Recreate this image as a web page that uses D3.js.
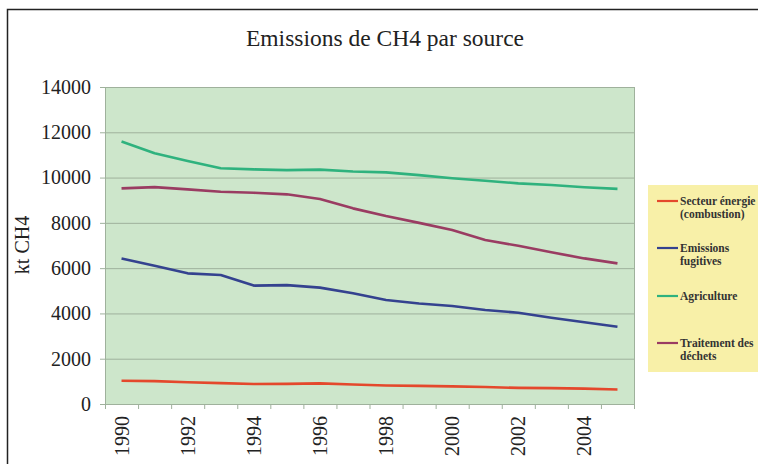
<!DOCTYPE html>
<html><head><meta charset="utf-8">
<script src="https://cdn.jsdelivr.net/npm/d3@7"></script>
<style>body{margin:0;background:#fff;}svg{display:block;} text{font-family:"Liberation Serif","Times New Roman","DejaVu Serif",serif;}</style>
</head><body>
<svg id="c" width="758" height="464"></svg>
<script>
const years = [1990,1991,1992,1993,1994,1995,1996,1997,1998,1999,2000,2001,2002,2003,2004,2005];
const yTicks = [0,2000,4000,6000,8000,10000,12000,14000];
const xTickLabels = [1990,1992,1994,1996,1998,2000,2002,2004];
const energie = [1030,1010,960,920,880,890,910,860,820,800,780,750,710,700,680,640];
const fugitives = [6430,6110,5770,5700,5230,5250,5140,4890,4590,4440,4330,4150,4030,3810,3610,3410];
const agriculture = [11590,11070,10730,10410,10360,10330,10350,10270,10230,10110,9970,9860,9745,9670,9570,9500];
const dechets = [9525,9580,9480,9375,9330,9260,9050,8640,8300,8000,7680,7240,6990,6700,6430,6210];
const seriesNames = [["Secteur énergie","(combustion)"],["Emissions","fugitives"],["Agriculture"],["Traitement des","déchets"]];
const seriesColors = ["#e4482c","#34428f","#2fb27e","#9a3c62"];
const seriesData = [energie,fugitives,agriculture,dechets];

const svg = d3.select("#c");
const L=105,R=634,T=87,B=404;

svg.append("path").attr("d","M7.5,470 V9.5 H770").attr("fill","none").attr("stroke","#222").attr("stroke-width",1.5);

svg.append("text").attr("x",385).attr("y",46).attr("text-anchor","middle")
  .attr("font-size",23.5).attr("fill","#222").text("Emissions de CH4 par source");

const x = d3.scaleBand().domain(years).range([L,R]);
const y = d3.scaleLinear().domain([0,14000]).range([B,T]);

svg.append("rect").attr("x",L).attr("y",T).attr("width",R-L).attr("height",B-T).attr("fill","#cde6cb");
svg.append("g").selectAll("line").data(yTicks).join("line")
  .attr("x1",L).attr("x2",R).attr("y1",d=>y(d)+0.5).attr("y2",d=>y(d)+0.5)
  .attr("stroke","#9fb19c").attr("stroke-width",1);
svg.append("line").attr("x1",R+0.5).attr("x2",R+0.5).attr("y1",T).attr("y2",B).attr("stroke","#9fb19c");

const yAxis = svg.append("g").attr("transform",`translate(${L},0)`)
  .call(d3.axisLeft(y).tickValues(yTicks).tickSize(5).tickPadding(9).tickFormat(d3.format("d")));
yAxis.attr("font-family",null);
yAxis.select(".domain").attr("stroke","#9fb19c");
yAxis.selectAll(".tick line").attr("stroke","#9fb19c");
yAxis.selectAll("text").attr("font-size",20).attr("fill","#222");

const xAxis = svg.append("g").attr("transform",`translate(0,${B})`)
  .call(d3.axisBottom(x).tickValues([]).tickSize(0));
xAxis.select(".domain").attr("stroke","#9fb19c");
const bounds = years.map(d=>x(d)).concat([R]);
svg.append("g").selectAll("line").data(bounds).join("line")
  .attr("x1",d=>d+0.5).attr("x2",d=>d+0.5).attr("y1",B).attr("y2",B+5).attr("stroke","#9fb19c");
svg.append("g").selectAll("text").data(xTickLabels).join("text")
  .attr("transform",d=>`translate(${x(d)+x.bandwidth()/2+7},${B+12}) rotate(-90)`)
  .attr("text-anchor","end").attr("font-size",20).attr("fill","#222").text(d=>d);

svg.append("text").attr("transform","translate(29,245) rotate(-90)").attr("text-anchor","middle")
  .attr("font-size",20).attr("fill","#222").text("kt CH4");

const line = d3.line().x((d,i)=>x(years[i])+x.bandwidth()/2).y(d=>y(d));
seriesData.forEach((s,i)=>{
  svg.append("path").datum(s).attr("d",line).attr("fill","none")
    .attr("stroke",seriesColors[i]).attr("stroke-width",2.6).attr("stroke-linejoin","round");
});

svg.append("rect").attr("x",648).attr("y",185).attr("width",120).attr("height",187).attr("fill","#f8f0a8");
const legY = [201,248,296,343];
seriesNames.forEach((n,i)=>{
  svg.append("line").attr("x1",657).attr("x2",678).attr("y1",legY[i]).attr("y2",legY[i])
    .attr("stroke",seriesColors[i]).attr("stroke-width",2.2);
  const t = svg.append("text").attr("x",680).attr("y",legY[i]+4)
    .attr("font-size",11.5).attr("font-weight","bold").attr("fill","#333");
  n.forEach((ln,j)=>t.append("tspan").attr("x",680).attr("dy",j?12.5:0).text(ln));
});
</script>
</body></html>
